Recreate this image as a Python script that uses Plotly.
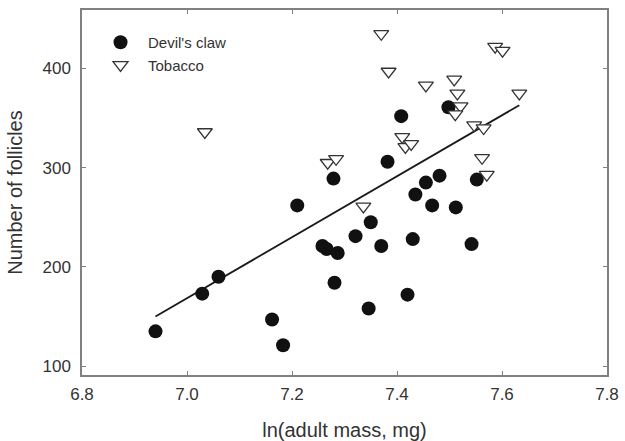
import plotly.graph_objects as go

# Devil's claw (filled circles)
devil_x = [6.940, 7.029, 7.060, 7.162, 7.183, 7.210, 7.258, 7.266, 7.287, 7.281,
           7.279, 7.321, 7.350, 7.370, 7.346, 7.430, 7.420, 7.435, 7.455, 7.481,
           7.467, 7.512, 7.542, 7.552, 7.498, 7.408, 7.382]
devil_y = [135, 173, 190, 147, 121, 262, 221, 218, 214, 184,
           289, 231, 245, 221, 158, 228, 172, 273, 285, 292,
           262, 260, 223, 288, 361, 352, 306]

# Tobacco (open down-triangles)
tob_x = [7.034, 7.268, 7.284, 7.336, 7.370, 7.384, 7.455, 7.509, 7.515, 7.521,
         7.511, 7.587, 7.601, 7.633, 7.410, 7.416, 7.427, 7.547, 7.565, 7.562, 7.571]
tob_y = [336, 305, 309, 261, 435, 397, 383, 389, 375, 362,
         354, 422, 418, 375, 331, 321, 324, 343, 340, 310, 293]

# Regression line end points
fit_x = [6.940, 7.633]
fit_y = [150, 363]

x_ticks = [6.8, 7.0, 7.2, 7.4, 7.6, 7.8]
y_ticks = [100, 200, 300, 400]

FONT = "Liberation Sans, Arial, sans-serif"
TXT = "#333333"

fig = go.Figure()
fig.add_trace(go.Scatter(x=fit_x, y=fit_y, mode="lines", showlegend=False,
                         line=dict(color="#1a1a1a", width=1.8)))
fig.add_trace(go.Scatter(x=devil_x, y=devil_y, mode="markers", name="Devil's claw",
                         marker=dict(symbol="circle", size=14, color="#111111",
                                     line=dict(color="#111111", width=0))))
fig.add_trace(go.Scatter(x=tob_x, y=tob_y, mode="markers", name="Tobacco",
                         marker=dict(symbol="triangle-down", size=13, color="white",
                                     line=dict(color="#333333", width=1.3))))

axis_common = dict(showline=True, linecolor="#808080", linewidth=1.5, mirror="ticks",
                   ticks="inside", ticklen=4, tickcolor="#808080", tickwidth=1,
                   showgrid=False, zeroline=False, automargin=False,
                   tickfont=dict(family=FONT, size=17, color=TXT))

fig.update_xaxes(range=[6.8, 7.8], tickvals=x_ticks, ticktext=[f"{v:.1f}" for v in x_ticks],
                 ticklabelstandoff=3,
                 title=dict(text="ln(adult mass, mg)", standoff=22,
                            font=dict(family=FONT, size=20, color=TXT)),
                 **axis_common)
fig.update_yaxes(range=[91, 459], tickvals=y_ticks, ticklabelstandoff=6,
                 title=dict(text="Number of follicles", standoff=14,
                            font=dict(family=FONT, size=20, color=TXT)),
                 **axis_common)

fig.update_layout(
    width=625, height=441,
    margin=dict(l=82, r=18, t=10, b=66),
    plot_bgcolor="white", paper_bgcolor="white",
    legend=dict(x=0.021, y=0.956, xanchor="left", yanchor="top",
                bgcolor="rgba(0,0,0,0)", tracegroupgap=0, itemwidth=45,
                font=dict(family=FONT, size=15, color=TXT)),
)

fig.write_html("out.html")
